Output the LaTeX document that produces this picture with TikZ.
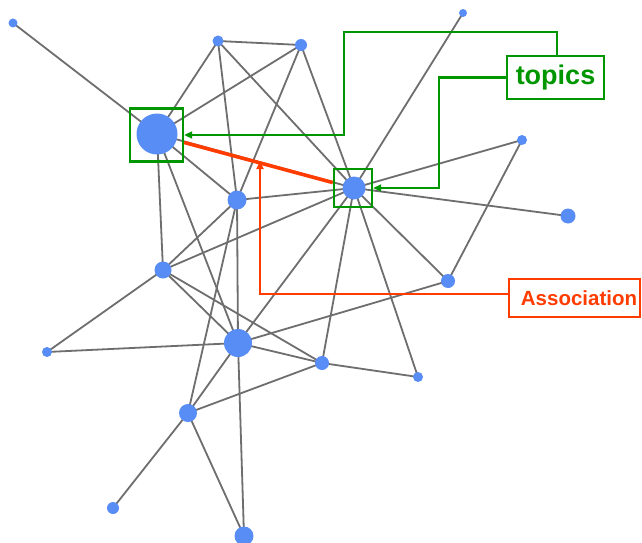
\documentclass[tikz,border=0pt]{standalone}
\usepackage{fontspec}
\setmainfont{Liberation Sans}
\usetikzlibrary{arrows.meta,backgrounds}
\definecolor{vertexblue}{RGB}{88,141,246}
\definecolor{edgegray}{RGB}{110,110,110}
\definecolor{tagGreen}{RGB}{0,150,0}
\definecolor{tagRed}{RGB}{255,60,0}
\tikzset{
  vertex/.style={circle,fill=vertexblue,draw=none,inner sep=0pt,minimum size=#1},
  link/.style={draw=edgegray,line width=1.8pt},
  hibox/.style={draw=tagGreen,line width=2.4pt,inner sep=0pt,fill=none,minimum size=#1},
  tagbox/.style={draw=#1,text=#1,line width=2.2pt,inner sep=0pt,fill=white},
  gconn/.style={draw=tagGreen,line width=2.4pt,-{Triangle[length=8pt,width=7pt]}},
  rconn/.style={draw=tagRed,line width=2.4pt,-{Triangle[length=8pt,width=7pt]}},
  assocline/.style={draw=tagRed,line width=3.6pt}
}
\begin{document}
\begin{tikzpicture}[x=1pt,y=-1pt]
\useasboundingbox (0,0) rectangle (642,543);

% vertices
\node[vertex=9pt]  (A) at (13,23) {};
\node[vertex=11pt] (B) at (218,41) {};
\node[vertex=12pt] (C) at (301,45) {};
\node[vertex=41pt] (D) at (157,134) {};
\node[vertex=19pt] (E) at (237,200) {};
\node[vertex=17pt] (F) at (163,270) {};
\node[vertex=8pt]  (G) at (463,13) {};
\node[vertex=23pt] (H) at (354,188) {};
\node[vertex=10pt] (I) at (522,140) {};
\node[vertex=15pt] (J) at (568,216) {};
\node[vertex=14pt] (K) at (448,281) {};
\node[vertex=28pt] (L) at (238,343) {};
\node[vertex=10pt] (M) at (47,352) {};
\node[vertex=14pt] (N) at (322,363) {};
\node[vertex=10pt] (O) at (418,377) {};
\node[vertex=18pt] (P) at (188,413) {};
\node[vertex=12pt] (Q) at (113,508) {};
\node[vertex=19pt] (R) at (244,536) {};

% white page and the edges, behind the vertices
\begin{pgfonlayer}{background}
\fill[white] (0,0) rectangle (642,543);
\foreach \u/\v in {A/D,B/C,B/D,B/E,B/H,C/D,C/E,C/H,D/E,D/F,D/L,D/H,
                   E/H,E/F,E/L,E/P,F/H,F/L,F/N,F/M,G/H,H/I,H/J,H/K,
                   H/L,H/O,H/N,I/K,K/L,L/M,L/N,L/P,L/R,N/O,P/Q,P/R,P/N}
  \draw[link] (\u.center) -- (\v.center);
\end{pgfonlayer}

% highlight boxes
\node[hibox=53pt] (Dbox) at (156.5,135) {};
\node[hibox=38pt] (Hbox) at (353,188) {};

% association edge
\draw[assocline] (Dbox) -- (Hbox);

% labels
\node[tagbox=tagGreen,minimum width=97pt,minimum height=43pt,
      font=\bfseries\fontsize{27}{29}\selectfont] (topics) at (555.5,77.5) {topics};
\node[tagbox=tagRed,minimum width=131pt,minimum height=38pt,
      font=\bfseries\fontsize{20.5}{23}\selectfont] (assoc) at (574.5,298) {\hspace*{9pt}Association};

% callout connectors
\coordinate (bendA) at (344,32);
\coordinate (bendB) at (439,188);
\coordinate (assocTip) at (260,161);
\draw[gconn] ([xshift=1.5pt]topics.north) |- (bendA) |- (Dbox.east);
\draw[gconn] (topics.west) -| (bendB) -- (Hbox.east);
\draw[rconn] ([yshift=4pt]assoc.west) -| (assocTip);
\end{tikzpicture}
\end{document}
